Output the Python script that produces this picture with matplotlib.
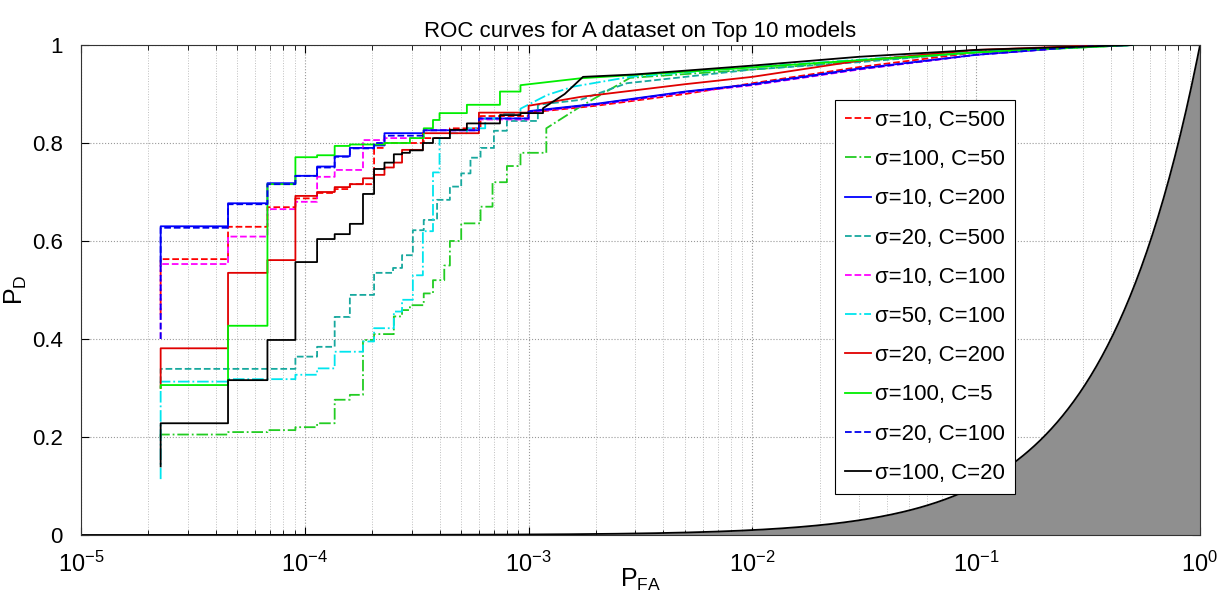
import numpy as np
import matplotlib
matplotlib.use("Agg")
import matplotlib.pyplot as plt
from matplotlib import ticker

plt.rcParams['font.family'] = ['Liberation Sans', 'DejaVu Sans']
plt.rcParams['mathtext.fontset'] = 'custom'
plt.rcParams['mathtext.rm'] = 'Liberation Sans'

# legend labels (legend order)
labels = ["σ=10, C=500", "σ=100, C=50", "σ=10, C=200", "σ=20, C=500", "σ=10, C=100",
          "σ=50, C=100", "σ=20, C=200", "σ=100, C=5", "σ=20, C=100", "σ=100, C=20"]

# ROC points (P_FA, P_D)
fa_s10_c500 = [2.27e-5, 2.27e-5, 4.54e-5, 6.81e-5, 9.08e-5, 1.135e-4, 1.36e-4, 1.59e-4, 2.04e-4, 2.27e-4,
               3.4e-4, 4.45e-4, 6.1e-4, 1.0e-3, 2e-3, 5e-3, 1e-2, 3e-2, 1e-1, 4e-1]
pd_s10_c500 = [0.45, 0.563, 0.629, 0.669, 0.687, 0.698, 0.706, 0.716, 0.79, 0.80,
               0.81, 0.83, 0.855, 0.862, 0.876, 0.90, 0.922, 0.955, 0.985, 1.0]

fa_s100_c50 = [2.27e-5, 2.27e-5, 4.54e-5, 6.81e-5, 9.08e-5, 1.135e-4, 1.36e-4, 1.59e-4, 1.82e-4, 2.04e-4,
               2.5e-4, 2.72e-4, 2.95e-4, 3.4e-4, 3.74e-4, 4.2e-4, 4.45e-4, 5.0e-4, 6.1e-4, 6.9e-4,
               8e-4, 9.2e-4, 1.2e-3, 1.7e-3, 2.84e-3, 1e-2, 3e-2, 1e-1, 5e-1]
pd_s100_c50 = [0.20, 0.205, 0.21, 0.214, 0.22, 0.228, 0.276, 0.286, 0.398, 0.41,
               0.446, 0.459, 0.469, 0.493, 0.52, 0.55, 0.60, 0.636, 0.67, 0.72,
               0.753, 0.78, 0.83, 0.874, 0.933, 0.95, 0.967, 0.985, 1.0]

fa_s10_c200 = [2.27e-5, 2.27e-5, 4.54e-5, 6.81e-5, 9.08e-5, 1.135e-4, 1.36e-4, 1.59e-4, 2.04e-4, 2.27e-4,
               3.4e-4, 6e-4, 1e-3, 2e-3, 5e-3, 1e-2, 3e-2, 1e-1, 3e-1, 5e-1]
pd_s10_c200 = [0.55, 0.63, 0.677, 0.718, 0.733, 0.752, 0.773, 0.79, 0.795, 0.82,
               0.826, 0.85, 0.865, 0.88, 0.905, 0.92, 0.952, 0.98, 0.997, 1.0]

fa_s20_c500 = [2.27e-5, 2.27e-5, 9.08e-5, 1.135e-4, 1.36e-4, 1.59e-4, 2.04e-4, 2.48e-4, 2.72e-4, 3.04e-4,
               3.4e-4, 3.9e-4, 4.45e-4, 5e-4, 5.5e-4, 6.1e-4, 7e-4, 8e-4, 1.1e-3, 1.7e-3,
               2.75e-3, 1e-2, 3e-2, 1e-1, 5e-1]
pd_s20_c500 = [0.31, 0.339, 0.364, 0.384, 0.445, 0.49, 0.535, 0.545, 0.571, 0.622,
               0.643, 0.684, 0.711, 0.738, 0.77, 0.79, 0.825, 0.845, 0.878, 0.888,
               0.922, 0.95, 0.965, 0.985, 1.0]

fa_s10_c100 = [2.27e-5, 2.27e-5, 4.54e-5, 6.81e-5, 9.08e-5, 1.135e-4, 1.36e-4, 1.82e-4, 2.27e-4,
               3.4e-4, 6e-4, 1e-3, 2e-3, 5e-3, 1e-2, 3e-2, 1e-1, 3e-1, 5e-1]
pd_s10_c100 = [0.40, 0.553, 0.609, 0.665, 0.68, 0.731, 0.745, 0.806, 0.81,
               0.826, 0.848, 0.863, 0.878, 0.903, 0.918, 0.95, 0.98, 0.997, 1.0]

fa_s50_c100 = [2.27e-5, 2.27e-5, 4.54e-5, 9.08e-5, 1.135e-4, 1.36e-4, 1.82e-4, 2.04e-4, 2.5e-4, 2.72e-4,
               3.04e-4, 3.37e-4, 3.74e-4, 4.0e-4, 4.45e-4, 5.3e-4, 6.4e-4, 7.5e-4, 9.2e-4, 1.21e-3,
               1.58e-3, 2.84e-3, 1e-2, 3e-2, 1e-1, 5e-1]
pd_s50_c100 = [0.114, 0.313, 0.318, 0.327, 0.34, 0.374, 0.395, 0.422, 0.456, 0.48,
               0.53, 0.62, 0.74, 0.81, 0.82, 0.83, 0.85, 0.86, 0.87, 0.898,
               0.915, 0.935, 0.955, 0.97, 0.988, 1.0]

fa_s20_c200 = [2.27e-5, 2.27e-5, 4.54e-5, 6.81e-5, 9.08e-5, 1.135e-4, 1.36e-4, 1.59e-4, 1.82e-4, 2.04e-4,
               2.27e-4, 2.5e-4, 2.72e-4, 3.37e-4, 6e-4, 1e-3, 1.7e-3, 5e-3, 1e-2, 3e-2, 1e-1, 4e-1]
pd_s20_c200 = [0.30, 0.381, 0.535, 0.561, 0.692, 0.70, 0.71, 0.716, 0.728, 0.735,
               0.75, 0.76, 0.786, 0.82, 0.862, 0.876, 0.894, 0.92, 0.935, 0.968, 0.99, 1.0]

fa_s100_c5 = [2.27e-5, 2.27e-5, 4.54e-5, 6.81e-5, 9.08e-5, 1.135e-4, 1.36e-4, 1.59e-4, 2.27e-4, 2.95e-4,
              3.4e-4, 3.74e-4, 4.0e-4, 5.3e-4, 7.45e-4, 9.2e-4, 1.7e-3, 6.7e-3, 3e-2, 1e-1, 5e-1]
pd_s100_c5 = [0.30, 0.306, 0.427, 0.716, 0.771, 0.775, 0.794, 0.797, 0.80, 0.81,
              0.83, 0.847, 0.861, 0.878, 0.905, 0.918, 0.932, 0.949, 0.969, 0.985, 1.0]

fa_s20_c100 = [2.27e-5, 2.27e-5, 4.54e-5, 6.81e-5, 9.08e-5, 1.135e-4, 1.36e-4, 1.59e-4, 2.04e-4, 2.27e-4,
               3.4e-4, 6e-4, 1e-3, 2e-3, 5e-3, 1e-2, 3e-2, 1e-1, 3e-1, 5e-1]
pd_s20_c100 = [0.40, 0.627, 0.675, 0.716, 0.733, 0.75, 0.772, 0.789, 0.80, 0.815,
               0.826, 0.85, 0.864, 0.879, 0.904, 0.919, 0.951, 0.98, 0.997, 1.0]

fa_s100_c20 = [2.27e-5, 2.27e-5, 4.54e-5, 6.81e-5, 9.08e-5, 1.135e-4, 1.36e-4, 1.59e-4, 1.82e-4, 2.04e-4,
               2.27e-4, 2.5e-4, 2.72e-4, 2.95e-4, 3.37e-4, 3.74e-4, 4.45e-4, 5.3e-4, 7.45e-4, 9.2e-4,
               1.16e-3, 1.45e-3, 1.75e-3, 3e-3, 1e-2, 3e-2, 1e-1, 5e-1]
pd_s100_c20 = [0.14, 0.228, 0.316, 0.398, 0.557, 0.604, 0.614, 0.635, 0.696, 0.747,
               0.76, 0.777, 0.78, 0.785, 0.80, 0.81, 0.827, 0.84, 0.857, 0.861,
               0.871, 0.90, 0.935, 0.94, 0.958, 0.976, 0.99, 1.0]

series = [(fa_s10_c500, pd_s10_c500), (fa_s100_c50, pd_s100_c50), (fa_s10_c200, pd_s10_c200),
          (fa_s20_c500, pd_s20_c500), (fa_s10_c100, pd_s10_c100), (fa_s50_c100, pd_s50_c100),
          (fa_s20_c200, pd_s20_c200), (fa_s100_c5, pd_s100_c5), (fa_s20_c100, pd_s20_c100),
          (fa_s100_c20, pd_s100_c20)]
colors = ['#ff0000', '#22cc22', '#0000ff', '#17a89e', '#ff00ff',
          '#00e5ee', '#e00000', '#00ee00', '#0000ee', '#000000']
styles = ['--', '-.', '-', '--', '--', '-.', '-', '-', '--', '-']


def stair(fa, pd, lim=1.2e-3):
    # step corners where the steps are fine, straight segments beyond
    xs, ys = [fa[0]], [pd[0]]
    for i in range(1, len(fa)):
        if fa[i] <= lim:
            xs.append(fa[i])
            ys.append(pd[i - 1])
        xs.append(fa[i])
        ys.append(pd[i])
    return xs, ys


fig = plt.figure(figsize=(12.25, 5.97), dpi=100)
ax = fig.add_axes([0.0661, 0.1039, 0.9135, 0.8207])

# chance region
chance = np.logspace(-5, 0, 400)
ax.fill_between(chance, 0, chance, color='#8f8f8f', lw=0, zorder=1)
ax.plot(chance, chance, color='black', lw=1.3, zorder=2)

for (fa, pd), c, ls, lab in zip(series, colors, styles, labels):
    xs, ys = stair(fa, pd)
    ax.plot(xs, ys, color=c, ls=ls, lw=1.3, label=lab, zorder=3)

ax.set_xscale('log')
ax.set_xlim(1e-5, 1)
ax.set_ylim(0, 1)
ax.set_yticks([0, 0.2, 0.4, 0.6, 0.8, 1])
ax.set_yticklabels(['0', '0.2', '0.4', '0.6', '0.8', '1'])
ax.xaxis.set_minor_locator(ticker.LogLocator(base=10, subs=np.arange(2, 10)))
ax.xaxis.set_minor_formatter(ticker.NullFormatter())
ax.tick_params(which='both', direction='in', top=True, right=True, labelsize=16)
ax.tick_params(which='major', length=6, width=0.8)
ax.tick_params(which='minor', length=3.5, width=0.6)
ax.tick_params(axis='x', which='major', pad=12, labelsize=17)
ax.tick_params(axis='y', which='major', pad=13)

ax.grid(True, which='major', ls=':', color='0.6', lw=0.8)
ax.grid(True, which='minor', axis='x', ls=':', color='0.75', lw=0.7)
ax.set_axisbelow(True)
for sp in ax.spines.values():
    sp.set_linewidth(0.8)
    sp.set_color('0.2')

ax.set_title('ROC curves for A dataset on Top 10 models', fontsize=16, pad=6)
ax.set_xlabel(r'$\mathregular{P_{FA}}$', fontsize=18, labelpad=-7)
ax.set_ylabel(r'$\mathregular{P_{D}}$', fontsize=18, labelpad=2)

leg = ax.legend(loc='upper left', bbox_to_anchor=(0.674, 0.888), fontsize=16, handlelength=1.15,
                handletextpad=0.2, labelspacing=0.82, borderpad=0.45, borderaxespad=0,
                fancybox=False, framealpha=1, edgecolor='black')
leg.get_frame().set_linewidth(0.8)

fig.savefig('out.png', dpi=100)
